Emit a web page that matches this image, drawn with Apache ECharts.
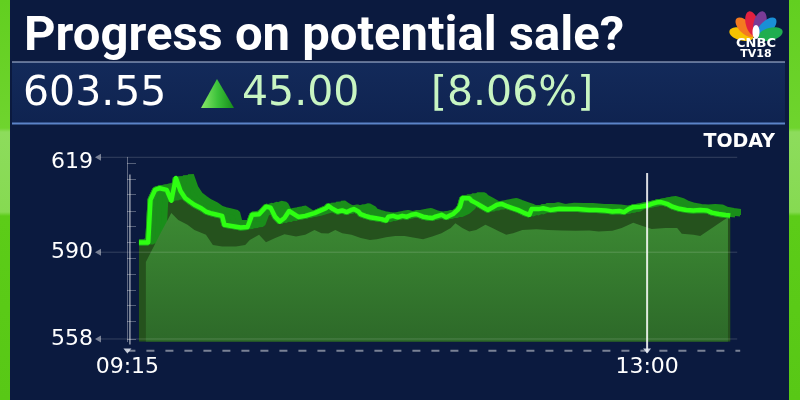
<!DOCTYPE html>
<html><head><meta charset="utf-8">
<script src="https://cdn.jsdelivr.net/npm/echarts@6/dist/echarts.min.js"></script>
<style>html,body{margin:0;padding:0;background:#0b1a3f}#c{width:800px;height:400px}</style>
</head><body><div id="c"></div>
<script>
// ---- data ----
const times = ['09:20','09:24','09:25','09:27','09:29','09:32','09:34','09:36','09:38','09:40','09:42','09:44','09:47','09:49','09:51','09:53','09:56','09:57','10:00','10:04','10:07','10:09','10:12','10:15','10:17','10:19','10:21','10:23','10:25','10:29','10:32','10:36','10:41','10:42','10:44','10:46','10:48','10:50','10:52','10:53','10:55','10:56','10:58','11:00','11:02','11:05','11:07','11:08','11:10','11:12','11:14','11:16','11:18','11:20','11:23','11:25','11:27','11:28','11:31','11:33','11:36','11:38','11:39','11:40','11:43','11:44','11:46','11:49','11:51','11:53','11:55','11:57','11:59','12:02','12:04','12:06','12:07','12:09','12:10','12:13','12:15','12:18','12:22','12:26','12:30','12:35','12:38','12:42','12:45','12:48','12:50','12:52','12:54','12:57','13:00','13:02','13:04','13:06','13:09','13:11','13:14','13:17','13:20','13:23','13:26','13:28','13:31','13:34','13:36'];
const prices = [593.6,593.6,609.3,613.0,613.6,613.0,609.0,617.4,612.6,610.0,608.7,607.5,606.2,605.0,604.4,604.0,603.4,600.1,599.7,599.1,599.3,603.8,604.0,606.8,606.4,603.0,601.3,602.6,605.2,603.0,603.4,604.4,606.2,607.1,605.9,605.0,605.4,604.8,605.6,605.9,605.0,604.0,603.4,602.9,602.6,602.2,601.7,603.1,603.4,602.9,603.4,603.1,603.8,604.1,603.1,602.8,602.6,603.0,603.8,602.9,604.1,605.6,606.8,609.9,609.9,609.0,608.1,606.6,605.6,606.5,607.5,607.8,607.1,606.2,605.6,604.8,604.4,603.8,605.9,605.9,606.2,605.6,606.0,605.9,605.9,605.6,605.6,605.4,605.0,605.2,604.8,605.9,606.6,606.8,607.2,607.8,608.3,608.5,607.7,606.8,606.0,605.6,605.4,605.6,605.4,604.6,604.1,603.7,603.5];
// front (lighter) face top edge of the 3D area
const frontTimes = ['09:23','09:29','09:34','09:37','09:41','09:44','09:49','09:52','09:56','10:02','10:06','10:08','10:12','10:15','10:19','10:23','10:28','10:32','10:36','10:39','10:42','10:45','10:48','10:52','10:56','11:00','11:03','11:07','11:11','11:15','11:18','11:23','11:27','11:31','11:35','11:37','11:40','11:43','11:46','11:50','11:53','11:56','11:59','12:02','12:06','12:12','12:17','12:23','12:29','12:35','12:39','12:45','12:49','12:54','12:58','13:02','13:08','13:13','13:15','13:20','13:23','13:35'];
const frontPrices = [586.4,596.4,604.5,601.9,600.1,598.2,596.4,592.7,592.1,592.1,592.7,594.5,596.4,593.7,595.2,596.6,595.8,596.4,598.2,597.0,596.9,598.2,597.0,596.4,595.2,594.5,594.8,595.5,596.0,596.0,595.5,594.8,595.8,597.0,598.9,600.7,598.9,597.6,598.2,600.1,598.9,597.6,596.4,597.0,598.2,598.5,598.2,598.0,597.9,598.0,597.6,597.9,598.9,600.9,599.7,598.6,598.9,598.9,596.8,596.4,596.0,602.9];
const yTickValues = [558, 590, 625];
const yTickLabels = ['558', '590', '619'];
const yMinorTicks = [558, 564.4, 570.3, 576.1, 582, 587.8, 593.5, 599.4, 605.2, 611.2, 617, 622.9];
const xTickTimes = ['09:15', '13:00'];
const xStart = '09:04', xEnd = '13:39';
const markerTime = '13:00';
const titleText = 'Progress on potential sale?';
const lastPrice = '603.55', changeText = '45.00', changePct = '[8.06%]';
const periodLabel = 'TODAY';
const Y_MIN = 557, Y_MAX = 625;

function toMin(t){ const p = t.split(':').map(Number); return p[0]*60 + p[1]; }
function toClock(v){ const h = Math.floor(v/60), m = Math.round(v - h*60); return String(h).padStart(2,'0') + ':' + String(m).padStart(2,'0'); }

const lineData = times.map((t,i) => [toMin(t), prices[i]]);
const frontData = frontTimes.map((t,i) => [toMin(t), frontPrices[i]]);

const chart = echarts.init(document.getElementById('c'), null, {renderer:'canvas'});

function ribbon(dx, dy){
  return {
    type:'line', data: lineData, showSymbol:false, z:3, silent:true,
    lineStyle:{ width:6, color:'#1d961d', shadowColor:'#1a8e1a', shadowBlur:0, shadowOffsetX:dx, shadowOffsetY:dy },
    animation:false
  };
}

const peacock = ['#f6c200','#f47a20','#e2213f','#7a3b96','#1a8fd6','#1fae4f'];
const peacockChildren = peacock.map((c,i) => ({
  type:'ellipse', shape:{cx:0, cy:-15, rx:6.3, ry:12.5}, rotation: (75 - i*30) * Math.PI/180,
  style:{fill:c}
}));
peacockChildren.push({type:'ellipse', shape:{cx:0, cy:-6, rx:3.5, ry:7}, style:{fill:'#ffffff'}});

const barFill = () => new echarts.graphic.LinearGradient(0,0,0,1,[{offset:0,color:'#62cf20'},{offset:0.32,color:'#6fd42e'},{offset:0.33,color:'#8ddc5c'},{offset:0.53,color:'#86da52'},{offset:0.54,color:'#5ccc18'},{offset:1,color:'#58c816'}]);

const option = {
  backgroundColor:'#0b1a3f',
  animation:false,
  title:{
    text: titleText, left:19, top:7,
    textStyle:{ color:'#ffffff', fontSize:49, fontWeight:'bold', fontFamily:'Roboto', lineHeight:52 }
  },
  grid:{ left:102, right:62.8, top:157.3, bottom:58.3, containLabel:false },
  xAxis:{
    type:'value', min: toMin(xStart), max: toMin(xEnd), offset:9,
    axisLine:{ show:false },
    axisTick:{ show:false },
    splitLine:{ show:false },
    axisLabel:{ customValues: xTickTimes.map(toMin), formatter: v => toClock(v), color:'#ffffff', fontSize:22, fontFamily:'DejaVu Sans', margin:6 }
  },
  yAxis:[{
    type:'value', min:Y_MIN, max:Y_MAX, position:'left',
    axisLine:{show:false}, axisTick:{show:false}, splitLine:{show:false},
    axisLabel:{
      customValues: yTickValues, margin:9, color:'#ffffff', fontSize:22, fontFamily:'DejaVu Sans',
      formatter: v => {
        let k = 0; yTickValues.forEach((t,i) => { if (Math.abs(t - v) < Math.abs(yTickValues[k] - v)) k = i; });
        return k === yTickValues.length - 1 ? '{t|' + yTickLabels[k] + '}' : yTickLabels[k];
      },
      rich:{ t:{ color:'#ffffff', fontSize:22, fontFamily:'DejaVu Sans', padding:[10,0,0,0] } }
    }
  },{
    type:'value', min:Y_MIN, max:Y_MAX, position:'left', offset:-25,
    axisLine:{ show:true, lineStyle:{ color:'rgba(255,255,255,0.35)', width:1 } },
    axisTick:{ show:true, inside:true, length:9, customValues: yMinorTicks, lineStyle:{ color:'rgba(255,255,255,0.3)' } },
    axisLabel:{ show:false }, splitLine:{ show:false }
  }],
  series:[
    { type:'line', data: lineData, showSymbol:false, z:2, silent:true,
      lineStyle:{ width:0 }, areaStyle:{ color:'#25521d', opacity:1 } },
    ribbon(5,-1), ribbon(10,-2), ribbon(15,-3),
    { type:'line', data: frontData, showSymbol:false, z:4, silent:true,
      lineStyle:{ width:0 },
      areaStyle:{ opacity:1, color: new echarts.graphic.LinearGradient(0,0,0,1,[{offset:0,color:'#3c8a33'},{offset:1,color:'#2d6929'}]) } },
    { type:'line', data: lineData, showSymbol:false, z:6, silent:true,
      lineStyle:{ width:4.5, color:'#2eff12', join:'round' } },
    { type:'custom', z:7, silent:true, clip:false, xAxisIndex:0, yAxisIndex:0,
      data:[[toMin(markerTime), 600]],
      renderItem:(params, api) => {
        const ch = [];
        const x0 = api.coord([toMin(xStart), Y_MIN])[0];
        const x1 = api.coord([toMin(xEnd), Y_MIN])[0];
        yTickValues.forEach(v => {
          const y = api.coord([toMin(xStart), v])[1];
          ch.push({type:'line', shape:{x1:x0-2, y1:y, x2:x1, y2:y}, style:{stroke:'rgba(255,255,255,0.17)', lineWidth:1}});
          ch.push({type:'polygon', shape:{points:[[x0-7,y],[x0-1,y-3.5],[x0-1,y+3.5]]}, style:{fill:'rgba(255,255,255,0.45)'}});
        });
        const ax = api.coord([toMin(xTickTimes[0]), Y_MIN])[0];
        const ay = api.coord([0, Y_MIN])[1] + 9;
        ch.push({type:'line', shape:{x1:ax, y1:ay, x2:x1+3, y2:ay}, style:{stroke:'rgba(255,255,255,0.45)', lineWidth:2, lineDash:[8,11]}});
        ch.push({type:'line', shape:{x1:ax+2.5, y1:api.coord([0,618.7])[1], x2:ax+2.5, y2:api.coord([0,556])[1]}, style:{stroke:'rgba(255,255,255,0.55)', lineWidth:1.5}});
        const mx = api.coord([toMin(markerTime), Y_MIN])[0];
        ch.push({type:'line', shape:{x1:mx, y1:api.coord([0,619.2])[1], x2:mx, y2:api.coord([0,553])[1]}, style:{stroke:'rgba(255,255,255,0.85)', lineWidth:2}});
        xTickTimes.forEach(t => {
          const tx = api.coord([toMin(t), Y_MIN])[0];
          const ty = api.coord([0, 553.8])[1];
          ch.push({type:'polygon', shape:{points:[[tx-4,ty-2],[tx+4,ty-2],[tx,ty+3]]}, style:{fill:'rgba(230,235,245,0.85)'}});
        });
        return {type:'group', children:ch};
      }
    }
  ],
  graphic:[
    { type:'rect', shape:{x:0,y:0,width:10,height:400}, style:{ fill: barFill() } },
    { type:'rect', shape:{x:789,y:0,width:11,height:400}, style:{ fill: barFill() } },
    { type:'rect', shape:{x:12,y:62,width:773,height:62}, style:{ fill: new echarts.graphic.LinearGradient(0,0,0,1,[{offset:0,color:'#132a5a'},{offset:1,color:'#0f2350'}]) } },
    { type:'line', shape:{x1:12,y1:62,x2:785,y2:62}, style:{ stroke:'rgba(200,215,240,0.6)', lineWidth:1.5 } },
    { type:'line', shape:{x1:12,y1:123.5,x2:785,y2:123.5}, style:{ stroke:'#5c84c8', lineWidth:2 } },
    { type:'text', x:23, y:94, style:{ text:lastPrice, fill:'#ffffff', font:'41px "DejaVu Sans"', verticalAlign:'middle' } },
    { type:'polygon', shape:{points:[[201,108],[217,79],[234,108]]}, style:{ fill: new echarts.graphic.LinearGradient(0,0,1,0,[{offset:0,color:'#8be86a'},{offset:0.5,color:'#3cc23a'},{offset:1,color:'#168c1a'}]) } },
    { type:'text', x:242, y:94, style:{ text:changeText, fill:'#c8f5c2', font:'41px "DejaVu Sans"', verticalAlign:'middle' } },
    { type:'text', x:431, y:94, style:{ text:changePct, fill:'#c8f5c2', font:'41px "DejaVu Sans"', verticalAlign:'middle' } },
    { type:'text', x:775, y:142, style:{ text:periodLabel, fill:'#ffffff', font:'bold 19px "DejaVu Sans"', align:'right', verticalAlign:'middle' } },
    { type:'group', x:756, y:38, children: peacockChildren },
    { type:'text', x:756, y:44, style:{ text:'CNBC', fill:'#ffffff', font:'bold 13px "DejaVu Sans"', align:'center', verticalAlign:'middle' } },
    { type:'text', x:756, y:54, style:{ text:'TV18', fill:'#ffffff', font:'bold 11px "DejaVu Sans"', align:'center', verticalAlign:'middle' } }
  ]
};
chart.setOption(option);
</script></body></html>
